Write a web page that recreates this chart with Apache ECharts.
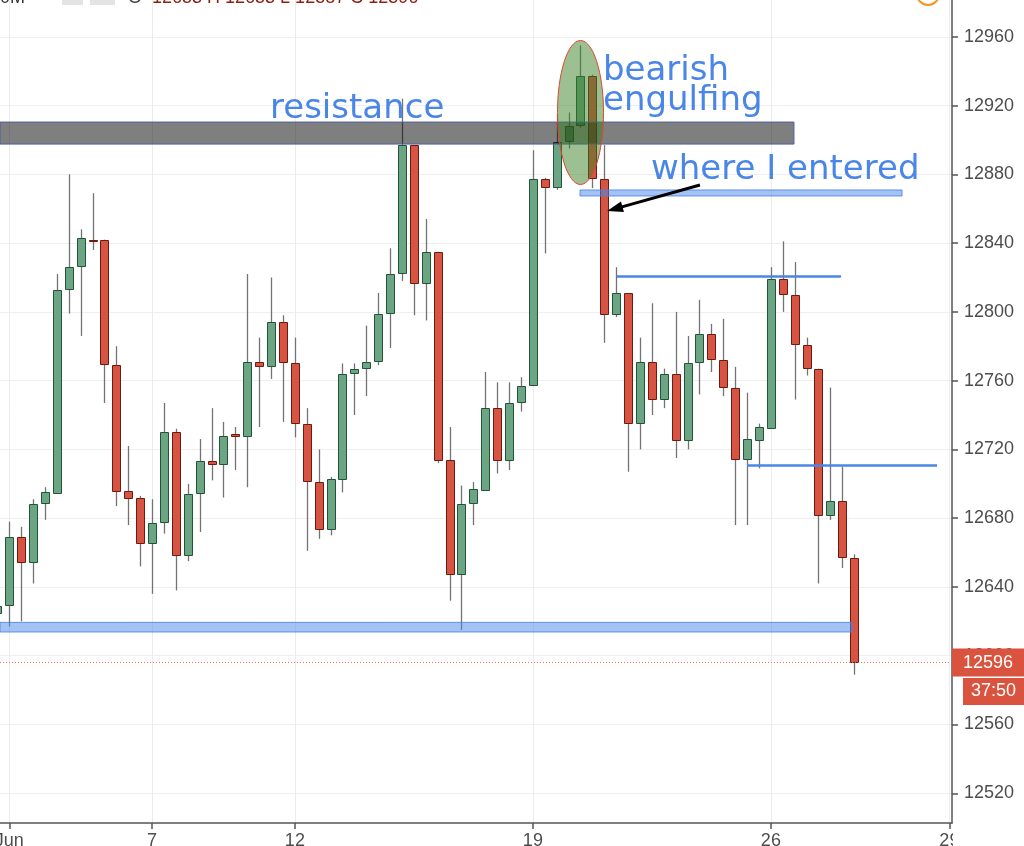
<!DOCTYPE html>
<html><head><meta charset="utf-8">
<script src="https://cdn.jsdelivr.net/npm/echarts@6/dist/echarts.min.js"></script>
<style>html,body{margin:0;padding:0;background:#fff}#c{width:1024px;height:846px}</style>
</head><body><div id="c"></div>
<script>
// ---- data (candle index starts at -1; index 0 sits on the "Jun" tick) ----
const firstIndex = -1;
const opens  = [12624,12629,12669,12654,12688,12694,12813,12826,12842,12842,12769,12696,12692,12665,12677,12730,12658,12694,12713,12711,12729,12727,12771,12768,12794,12770,12735,12701,12673,12702,12764,12767,12771,12799,12822,12897,12816,12835,12714,12647,12688,12696,12744,12713,12747,12757,12877,12872,12899,12908,12937,12877,12798,12811,12735,12771,12749,12764,12725,12770,12787,12772,12756,12714,12725,12732,12819,12810,12781,12767,12681,12690,12657];
const highs  = [12632,12678,12675,12691,12698,12822,12880,12848,12869,12842,12780,12722,12693,12691,12747,12732,12700,12726,12744,12736,12733,12822,12785,12820,12798,12785,12744,12720,12704,12770,12770,12792,12811,12837,12924,12897,12854,12835,12733,12699,12701,12765,12759,12759,12762,12894,12878,12915,12916,12955,12938,12897,12826,12811,12785,12805,12767,12800,12786,12807,12793,12796,12768,12753,12735,12826,12841,12829,12785,12767,12756,12710,12659];
const lows   = [12620,12617,12620,12642,12679,12694,12799,12786,12836,12747,12687,12676,12652,12636,12671,12638,12655,12672,12702,12692,12708,12698,12733,12761,12736,12727,12661,12668,12670,12695,12740,12751,12769,12779,12818,12798,12795,12712,12632,12615,12676,12696,12706,12708,12742,12757,12834,12871,12895,12907,12872,12782,12797,12707,12720,12740,12744,12715,12720,12752,12765,12751,12676,12676,12709,12732,12800,12749,12763,12642,12679,12651,12589];
const closes = [12629,12669,12654,12688,12695,12813,12826,12843,12841,12769,12695,12691,12665,12677,12730,12658,12694,12713,12711,12728,12727,12771,12768,12794,12770,12735,12701,12673,12703,12764,12767,12771,12799,12822,12897,12816,12835,12713,12647,12688,12697,12744,12713,12747,12757,12877,12872,12899,12908,12937,12877,12798,12811,12735,12771,12749,12764,12725,12770,12787,12772,12756,12714,12726,12733,12819,12810,12781,12767,12681,12690,12657,12596];

const dateTickIndex  = [0, 12, 24, 44, 64, 79];
const dateTickLabels = ['Jun', '7', '12', '19', '26', '29'];
const priceTicks = [12520,12560,12600,12640,12680,12720,12760,12800,12840,12880,12920,12960];
const lastPrice = 12596;
const countdown = '37:50';

// drawn levels (price units) and their index spans
const resistanceZone = { from: -0.78, to: 65.94, low: 12897.6, high: 12910.4 };
const entryZone      = { from: 47.96, to: 75.02, low: 12867.4, high: 12870.9 };
const supportZone    = { from: -0.78, to: 70.82, low: 12613.8, high: 12619.4 };
const upperLevel     = { from: 51.07, to: 69.89, price: 12821 };
const lowerLevel     = { from: 62.0,  to: 77.96, price: 12710.5 };
const arrowFrom = [58.04, 12873.8];
const arrowTo   = [50.88, 12859.9];

const X_MIN = -0.78, X_MAX = 79.22, Y_MIN = 12502.7, Y_MAX = 12981.4;

const candles = opens.map((o, i) => [firstIndex + i, o, closes[i], lows[i], highs[i]]);

const UP_FILL = '#6ba583', UP_LINE = '#225437', DN_FILL = '#d75442', DN_LINE = '#6b1b10', WICK = '#737375';

function renderCandle(params, api) {
  const x = api.value(0), o = api.value(1), c = api.value(2), l = api.value(3), h = api.value(4);
  const pO = api.coord([x, o]), pC = api.coord([x, c]), pL = api.coord([x, l]), pH = api.coord([x, h]);
  const cx = Math.round(pO[0]);
  const up = c >= o;
  let top = Math.round(Math.min(pO[1], pC[1])), bot = Math.round(Math.max(pO[1], pC[1]));
  if (bot - top < 2) bot = top + 2;
  return {
    type: 'group',
    children: [
      { type: 'line', shape: { x1: cx + 0.5, y1: pH[1], x2: cx + 0.5, y2: pL[1] }, style: { stroke: WICK, lineWidth: 1.3 } },
      { type: 'rect', shape: { x: cx - 3.5, y: top + 0.5, width: 8, height: bot - top - 1 },
        style: { fill: up ? UP_FILL : DN_FILL, stroke: up ? UP_LINE : DN_LINE, lineWidth: 1 } }
    ]
  };
}

const ANNOT_FONT = '34px "DejaVu Sans"';
const BLUE = '#4a86e8';

const chart = echarts.init(document.getElementById('c'), null, { renderer: 'canvas' });
chart.setOption({
  animation: false,
  backgroundColor: '#ffffff',
  grid: { left: 0, right: 72, top: 0, bottom: 23, containLabel: false, outerBoundsMode: 'none' },
  xAxis: {
    type: 'value', min: X_MIN, max: X_MAX,
    axisLine: { show: true, onZero: false, lineStyle: { color: '#555', width: 1.5 } },
    axisTick: { show: true, customValues: dateTickIndex, length: 6, lineStyle: { color: '#555', width: 1.5 } },
    axisLabel: {
      customValues: dateTickIndex, margin: 9, fontSize: 18, color: '#4d4d4d', fontFamily: 'Liberation Sans',
      formatter: v => { const k = dateTickIndex.indexOf(Math.round(v)); return k >= 0 ? dateTickLabels[k] : ''; }
    },
    splitLine: { show: true, lineStyle: { color: '#ececec', width: 1 } }
  },
  yAxis: {
    type: 'value', position: 'right', min: Y_MIN, max: Y_MAX, scale: true,
    axisLine: { show: true, onZero: false, lineStyle: { color: '#555', width: 1.5 } },
    axisTick: { show: true, customValues: priceTicks, length: 6, lineStyle: { color: '#555', width: 1.5 } },
    axisLabel: { customValues: priceTicks, margin: 12, fontSize: 18, color: '#4d4d4d', fontFamily: 'Liberation Sans',
                 formatter: v => String(Math.round(v)) },
    splitLine: { show: true, lineStyle: { color: '#efefef', width: 1 } }
  },
  series: [{
    type: 'custom',
    name: 'price',
    renderItem: renderCandle,
    encode: { x: 0, y: [1, 2, 3, 4] },
    data: candles,
    z: 2,
    markArea: {
      silent: true, z: 5,
      data: [
        [{ xAxis: resistanceZone.from, yAxis: resistanceZone.low, itemStyle: { color: 'rgba(0,0,0,0.5)', borderColor: '#4d5fa3', borderWidth: 1 } },
         { xAxis: resistanceZone.to, yAxis: resistanceZone.high }],
        [{ xAxis: entryZone.from, yAxis: entryZone.low, itemStyle: { color: 'rgba(74,134,232,0.5)', borderColor: 'rgba(74,134,232,0.85)', borderWidth: 1 } },
         { xAxis: entryZone.to, yAxis: entryZone.high }],
        [{ xAxis: supportZone.from, yAxis: supportZone.low, itemStyle: { color: 'rgba(74,134,232,0.5)', borderColor: 'rgba(74,134,232,0.85)', borderWidth: 1 } },
         { xAxis: supportZone.to, yAxis: supportZone.high }]
      ]
    },
    markLine: {
      silent: true, z: 6, symbol: ['none', 'none'], label: { show: false },
      data: [
        [{ coord: [X_MIN, lastPrice], lineStyle: { color: 'rgba(232,89,74,0.85)', type: [1, 2], width: 1 },
           label: { show: true, position: 'end', distance: 0, formatter: String(lastPrice), color: '#fff', fontSize: 18,
                    fontFamily: 'Liberation Sans', backgroundColor: '#d9533f', padding: [5, 11, 5, 11] } },
         { coord: [X_MAX, lastPrice] }],
        [{ coord: [upperLevel.from, upperLevel.price], lineStyle: { color: BLUE, width: 2.5, type: 'solid' } },
         { coord: [upperLevel.to, upperLevel.price] }],
        [{ coord: [lowerLevel.from, lowerLevel.price], lineStyle: { color: BLUE, width: 2.5, type: 'solid' } },
         { coord: [lowerLevel.to, lowerLevel.price] }],
        [{ coord: arrowFrom, lineStyle: { color: '#000', width: 3, type: 'solid' } },
         { coord: arrowTo, symbol: 'triangle', symbolSize: [11, 16], itemStyle: { color: '#000' } }]
      ]
    }
  }],
  graphic: [
    // cut-off header strip
    { type: 'text', z: 50, style: { text: '360M', x: 25, y: 7, align: 'right', verticalAlign: 'bottom', font: '18px "Liberation Sans"', fill: '#333' } },
    { type: 'rect', z: 50, shape: { x: 62, y: -12, width: 21, height: 17 }, style: { fill: '#e3e3e3' } },
    { type: 'rect', z: 50, shape: { x: 90, y: -12, width: 25, height: 17 }, style: { fill: '#e3e3e3' } },
    { type: 'text', z: 50, style: { text: 'O', x: 128, y: 7, verticalAlign: 'bottom', font: '18px "Liberation Sans"', fill: '#444' } },
    { type: 'text', z: 50, style: { text: '12653 H 12653 L 12587 C 12596', x: 152, y: 7, verticalAlign: 'bottom', font: '18px "Liberation Sans"', fill: '#8b1f14' } },
    { type: 'circle', z: 50, shape: { cx: 928, cy: -6, r: 11 }, style: { fill: '#fff', stroke: '#f7931e', lineWidth: 2 } },
    // highlight ellipse around the engulfing pair
    { type: 'ellipse', z: 40, shape: { cx: 580.5, cy: 112.5, rx: 23, ry: 72 }, style: { fill: 'rgba(60,130,40,0.5)', stroke: '#e0452e', lineWidth: 1 } },
    // annotation texts
    { type: 'text', z: 45, style: { text: 'resistance', x: 270, y: 109, verticalAlign: 'middle', font: ANNOT_FONT, fill: BLUE } },
    { type: 'text', z: 45, style: { text: 'bearish', x: 603, y: 71, verticalAlign: 'middle', font: ANNOT_FONT, fill: BLUE } },
    { type: 'text', z: 45, style: { text: 'engulfing', x: 603, y: 101.5, verticalAlign: 'middle', font: ANNOT_FONT, fill: BLUE } },
    { type: 'text', z: 45, style: { text: 'where I entered', x: 651, y: 170.5, verticalAlign: 'middle', font: ANNOT_FONT, fill: BLUE } },
    // countdown tag
    { type: 'rect', z: 50, shape: { x: 963, y: 678, width: 61, height: 27 }, style: { fill: '#d9533f' } },
    { type: 'text', z: 51, style: { text: countdown, x: 993.5, y: 691.5, align: 'center', verticalAlign: 'middle', font: '18px "Liberation Sans"', fill: '#fff' } },
    // price-scale panel hides the overflow of the last date label
    { type: 'rect', z: 60, shape: { x: 953, y: 825, width: 71, height: 21 }, style: { fill: '#fff' } }
  ]
});
</script></body></html>
